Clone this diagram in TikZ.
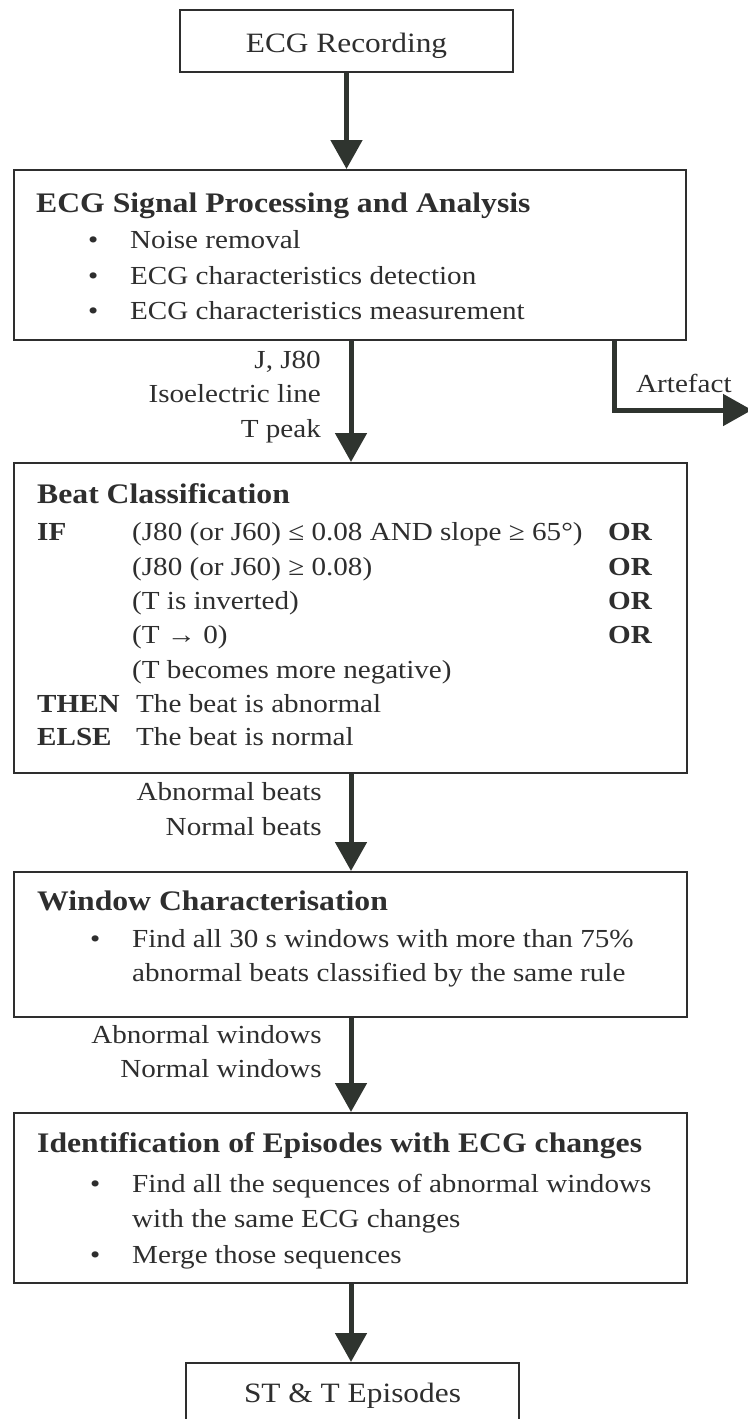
\documentclass[tikz,border=0pt]{standalone}
\usepackage{fontspec}
\setmainfont{Liberation Serif}[FakeStretch=1.12]
\usetikzlibrary{arrows.meta}
\definecolor{ink}{HTML}{2E2E2E}
\definecolor{arrowc}{HTML}{2F342F}
\begin{document}
\begin{tikzpicture}[x=1pt,y=-1pt,font=\fontsize{26}{35}\selectfont,
  box/.style={draw=ink,line width=2pt,inner sep=0pt,fill=white},
  txt/.style={anchor=base west,inner sep=0pt,text=ink},
  rtxt/.style={anchor=base east,inner sep=0pt,text=ink},
  ctxt/.style={anchor=base,inner sep=0pt,text=ink,font=\fontsize{28}{35}\selectfont},
  title/.style={txt,font=\fontsize{28.3}{35}\selectfont\bfseries},
  kw/.style={txt,font=\fontsize{26}{35}\selectfont\bfseries},
  flow/.style={draw=arrowc,line width=5pt,-{Triangle[width=31pt,length=29pt]}}]
\useasboundingbox (0,0) rectangle (747,1419);
% boxes
\node[box,minimum width=333pt,minimum height=62pt] (rec) at (346.5,41) {};
\node[box,minimum width=672pt,minimum height=170pt] (proc) at (350,255) {};
\node[box,minimum width=673pt,minimum height=310pt] (beat) at (350.5,618) {};
\node[box,minimum width=673pt,minimum height=145pt] (win) at (350.5,944.5) {};
\node[box,minimum width=673pt,minimum height=170pt] (epi) at (350.5,1198) {};
\node[box,minimum width=333pt,minimum height=90pt] (st) at (352.5,1408) {};
% box 1 / 6 text
\node[ctxt] (rect) at (346.5,52) {ECG Recording};
\node[ctxt] (stt) at (352.5,1402) {ST \& T Episodes};
% box 2
\node[title] (pt) at (36,212) {ECG Signal Processing and Analysis};
\node[txt] (pb1) at (88,248) {\textbullet};
\node[txt] (p1) at (130,248) {Noise removal};
\node[txt] (pb2) at (88,284) {\textbullet};
\node[txt] (p2) at (130,284) {ECG characteristics detection};
\node[txt] (pb3) at (88,319) {\textbullet};
\node[txt] (p3) at (130,319) {ECG characteristics measurement};
% labels
\node[rtxt] (l1) at (321,368) {J, J80};
\node[rtxt] (l2) at (321,402) {Isoelectric line};
\node[rtxt] (l3) at (321,437) {T peak};
\node[txt] (art) at (636,392) {Artefact};
% box 3
\node[title] (bt) at (37,503) {Beat Classification};
\node[kw] (bif) at (37,540) {IF};
\node[txt] (c1) at (132,540) {(J80 (or J60) ≤ 0.08 AND slope ≥ 65°)};
\node[txt] (c2) at (132,575) {(J80 (or J60) ≥ 0.08)};
\node[txt] (c3) at (132,609) {(T is inverted)};
\node[txt] (c4) at (132,643) {(T → 0)};
\node[txt] (c5) at (132,678) {(T becomes more negative)};
\node[kw] (o1) at (608,540) {OR};
\node[kw] (o2) at (608,575) {OR};
\node[kw] (o3) at (608,609) {OR};
\node[kw] (o4) at (608,643) {OR};
\node[kw] (bthen) at (37,712) {THEN};
\node[txt] (t1) at (136,712) {The beat is abnormal};
\node[kw] (belse) at (37,745) {ELSE};
\node[txt] (t2) at (136,745) {The beat is normal};
% labels
\node[rtxt] (l4) at (322,800) {Abnormal beats};
\node[rtxt] (l5) at (322,835) {Normal beats};
% box 4
\node[title] (wt) at (37,910) {Window Characterisation};
\node[txt] (wb1) at (90,947) {\textbullet};
\node[txt] (w1) at (132,947) {Find all 30 s windows with more than 75\%};
\node[txt] (w2) at (132,981) {abnormal beats classified by the same rule};
% labels
\node[rtxt] (l6) at (322,1043) {Abnormal windows};
\node[rtxt] (l7) at (322,1077) {Normal windows};
% box 5
\node[title] (et) at (37,1152) {Identification of Episodes with ECG changes};
\node[txt] (eb1) at (90,1192) {\textbullet};
\node[txt] (e1) at (132,1192) {Find all the sequences of abnormal windows};
\node[txt] (e2) at (132,1227) {with the same ECG changes};
\node[txt] (eb2) at (90,1263) {\textbullet};
\node[txt] (e3) at (132,1263) {Merge those sequences};
% connectors
\coordinate (ax) at (351,0);
\coordinate (artx) at (614,0);
\coordinate (artend) at (752,410);
\draw[flow] (rec.south) -- (rec.south |- proc.north);
\draw[flow] (proc.south -| ax) -- (beat.north -| ax);
\draw[flow] (beat.south -| ax) -- (win.north -| ax);
\draw[flow] (win.south -| ax) -- (epi.north -| ax);
\draw[flow] (epi.south -| ax) -- (st.north -| ax);
\draw[flow] (proc.south -| artx) |- (artend);
\end{tikzpicture}
\end{document}
